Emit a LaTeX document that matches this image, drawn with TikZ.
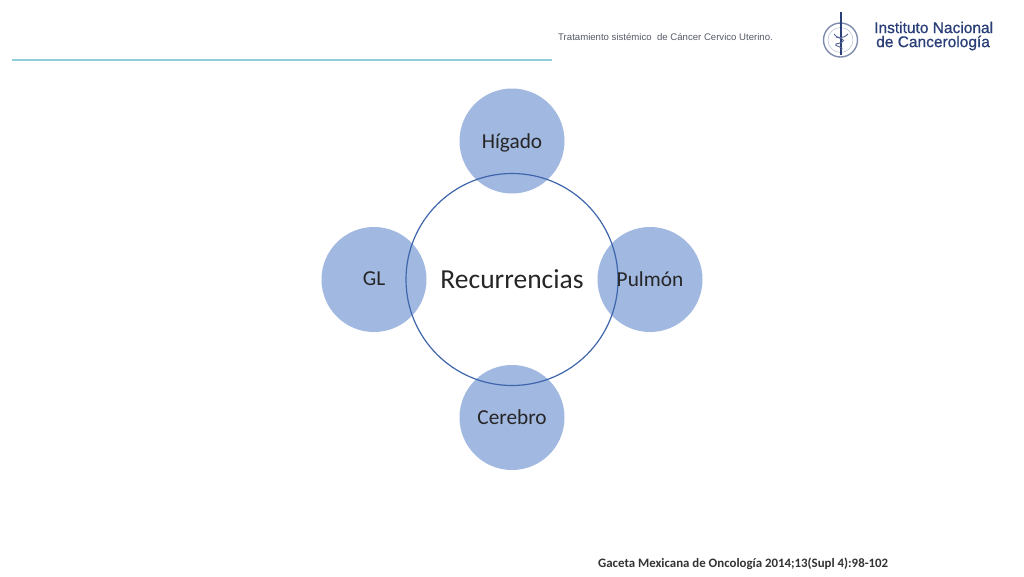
\documentclass[tikz,border=0pt]{standalone}
\usepackage{fontspec}
\setmainfont{Carlito}
\newfontfamily\headfont{Liberation Sans}
\definecolor{petal}{HTML}{A1B8E1}
\definecolor{ringblue}{HTML}{3F66AC}
\definecolor{rulecyan}{HTML}{8FCFDA}
\definecolor{logoblue}{HTML}{2A3F78}
\definecolor{headgray}{HTML}{555A66}
\tikzset{
  petalnode/.style={circle,fill=petal,draw=none,minimum size=105pt,inner sep=0pt},
  hubnode/.style={circle,draw=ringblue,line width=1.2pt,minimum size=212pt,inner sep=0pt},
  petaltext/.style={font=\fontsize{21.3}{24}\selectfont,text=black!85,inner sep=0pt},
  logotext/.style={font=\headfont\fontsize{15.5}{16}\selectfont,text=logoblue,anchor=west,inner sep=0pt,draw=none},
  logoring/.style={circle,inner sep=0pt}
}
\begin{document}
\begin{tikzpicture}[x=1pt,y=-1pt]
\useasboundingbox (0,0) rectangle (1024,576);
\fill[white] (0,0) rectangle (1024,576);
% header
\coordinate (ruleL) at (12,60);
\coordinate (ruleR) at (552,60);
\draw[rulecyan,line width=1.2pt] (ruleL) -- (ruleR);
\node[font=\headfont\fontsize{9.6}{11}\selectfont,text=headgray,anchor=west,inner sep=0pt] (headtitle) at (558,37.5) {Tratamiento sistémico\ \ de Cáncer Cervico Uterino.};
% logo
\node[logoring,minimum size=34pt,line width=1.4pt,draw=logoblue!60] (logoout) at (840.5,40) {};
\node[logoring,minimum size=25pt,line width=.5pt,draw=logoblue!35] (logoin) at (840.5,40) {};
\coordinate (stafftop) at (841,12);
\coordinate (staffbot) at (841,55);
\draw[logoblue,line width=1.1pt] (stafftop) -- (staffbot);
\draw[logoblue!80,line width=.9pt] (836,37) .. controls (846,39) and (846,42) .. (836,44) .. controls (832,46) and (846,47) .. (841,50);
\draw[logoblue!80,line width=.9pt] (834,34) .. controls (837,39) and (843,39) .. (848,34);
\node[logotext] (logo1) at (874,27.5) {\addfontfeature{FakeBold=0.8}Instituto Nacional};
\node[logotext] (logo2) at (876,43) {\addfontfeature{FakeBold=0.8}de Cancerología};
% diagram
\node[petalnode] (top) at (512,141) {};
\node[petalnode] (right) at (650,279.5) {};
\node[petalnode] (bottom) at (512,417.5) {};
\node[petalnode] (left) at (374,279.5) {};
\node[hubnode,anchor=center] (hub) at (512,279.5) {};
\node[font=\fontsize{27.5}{32}\selectfont,text=black!85,inner sep=0pt] (hubtext) at (512,279.5) {Recurrencias};
\node[petaltext] (t1) at (512,143) {Hígado};
\node[petaltext] (t2) at (650,279.5) {Pulmón};
\node[petaltext] (t3) at (512,417) {Cerebro};
\node[petaltext] (t4) at (374,279) {GL};
% citation
\node[font=\fontsize{12.85}{15}\selectfont\bfseries,text=black!80,anchor=west,inner sep=0pt] (cite) at (598,563.5) {Gaceta Mexicana de Oncología 2014;13(Supl 4):98-102};
\end{tikzpicture}
\end{document}
